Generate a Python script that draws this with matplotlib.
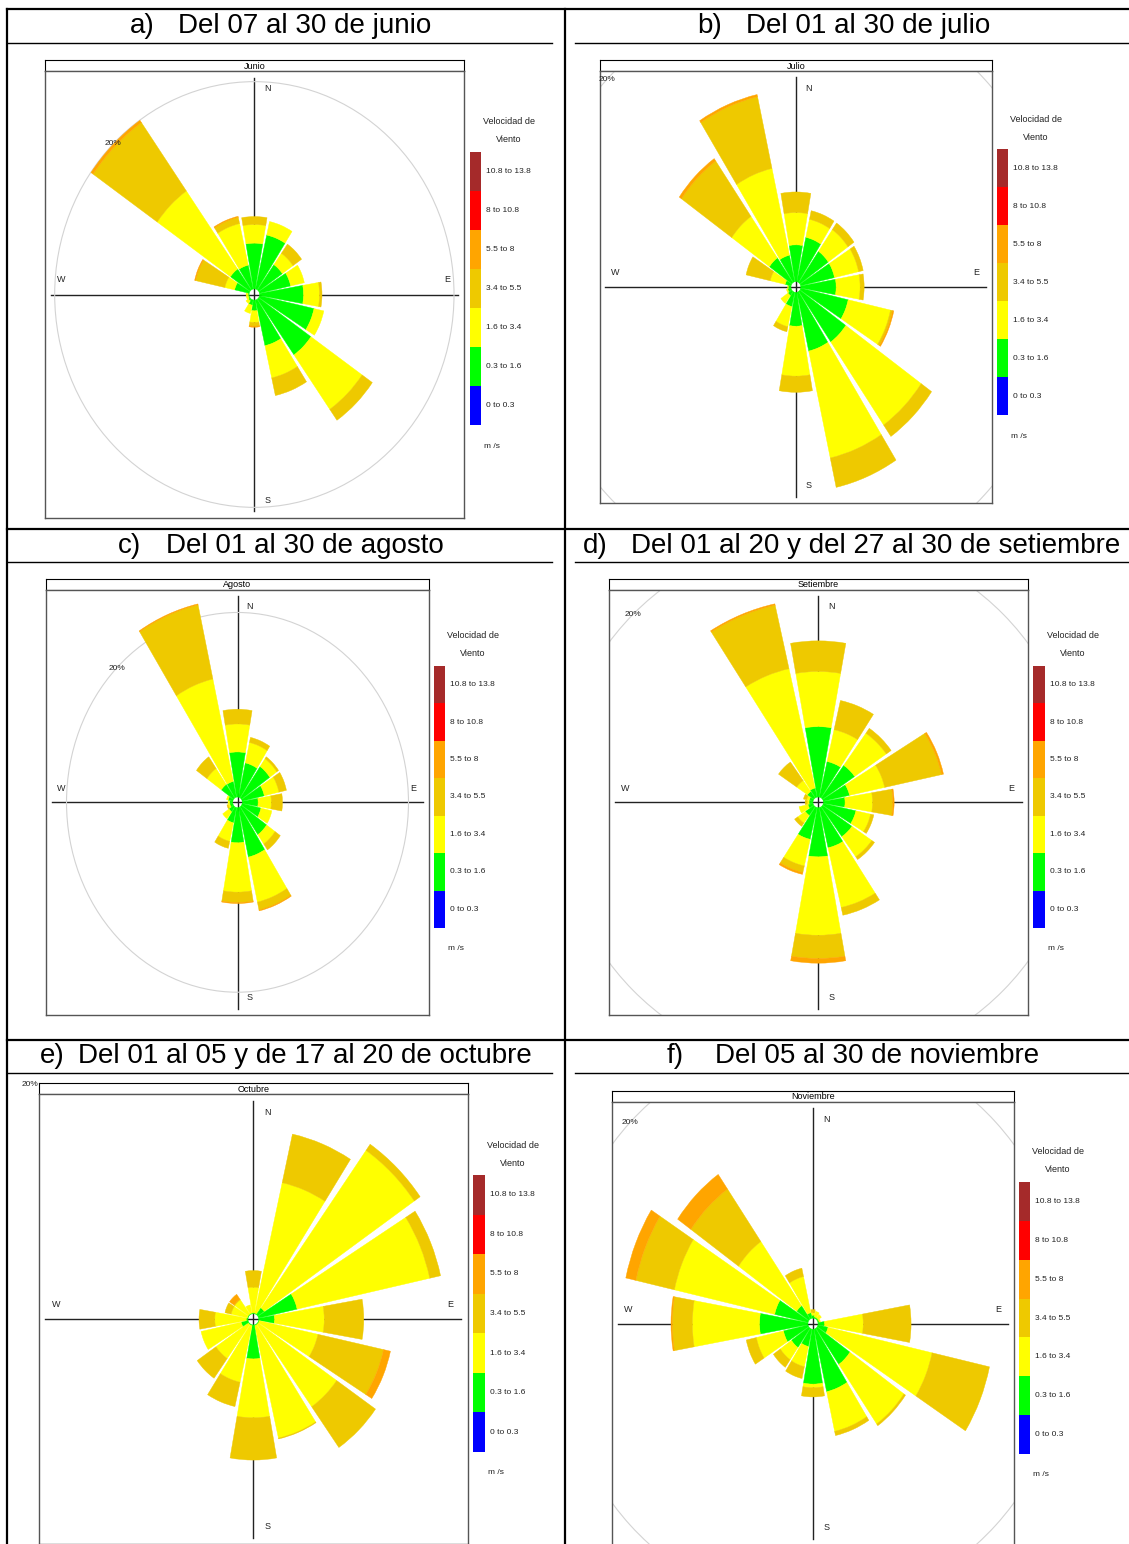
import numpy as np
import matplotlib.pyplot as plt
from matplotlib.patches import Wedge, Circle

plt.rcParams['font.family'] = ['Liberation Sans', 'DejaVu Sans']

W, H = 1129, 1544

# 16 sectores: N, NNE, NE, ENE, E, ESE, SE, SSE, S, SSW, SW, WSW, W, WNW, NW, NNW
directions = np.arange(16) * 22.5
speed_bins = ['0 to 0.3', '0.3 to 1.6', '1.6 to 3.4', '3.4 to 5.5',
              '5.5 to 8', '8 to 10.8', '10.8 to 13.8']
bin_colors = ['#0000FF', '#00FF00', '#FFFF00', '#EEC900', '#FFA500', '#FF0000', '#A52A2A']

letters = ['a)', 'b)', 'c)', 'd)', 'e)', 'f)']
periods = ['Del 07 al 30 de junio', 'Del 01 al 30 de julio',
           'Del 01 al 30 de agosto', 'Del 01 al 20 y del 27 al 30 de setiembre',
           'Del 01 al 05 y de 17 al 20 de octubre', 'Del 05 al 30 de noviembre']
months = ['Junio', 'Julio', 'Agosto', 'Setiembre', 'Octubre', 'Noviembre']

# frecuencia (%) por sector, bins 0.3-1.6 / 1.6-3.4 / 3.4-5.5 / 5.5-8
jun_g = [4.3, 5.2, 2.9, 3.2, 4.4, 5.6, 6.4, 4.4, 1.0, 0.5, 0.2, 0.1, 0.1, 1.5, 2.4, 2.3]
jun_y = [1.75, 1.3, 1.3, 1.4, 1.6, 1.0, 6.25, 3.1, 1.1, 0.8, 0.3, 0.2, 0.2, 1.0, 8.95, 4.0]
jun_gd = [0.75, 0, 1.05, 0, 0.25, 0, 1.25, 1.7, 0.35, 0, 0, 0, 0, 3.0, 7.85, 0.6]
jun_o = [0, 0, 0, 0, 0, 0, 0, 0, 0.1, 0, 0, 0, 0, 0.1, 0.25, 0.1]

jul_g = [2.5, 3.1, 2.6, 2.6, 2.65, 3.65, 4.2, 4.1, 2.3, 1.0, 0.35, 0.25, 0.2, 0.45, 2.05, 1.85]
jul_y = [2.2, 1.25, 1.8, 1.85, 1.8, 3.25, 6.9, 7.45, 3.4, 1.4, 0.65, 0.1, 0.05, 1.15, 3.45, 6.05]
jul_gd = [1.4, 0.6, 0.55, 0.35, 0.3, 0.15, 0.95, 2.05, 1.1, 0.35, 0, 0, 0, 1.85, 4.6, 5.0]
jul_o = [0, 0, 0, 0, 0, 0.1, 0, 0, 0, 0, 0, 0, 0, 0, 0.2, 0.15]

ago_g = [4.75, 3.7, 4.05, 2.65, 1.85, 2.25, 3.6, 5.35, 3.7, 1.65, 0.65, 0.35, 0.35, 0.55, 1.75, 1.7]
ago_y = [2.95, 2.2, 1.0, 1.75, 1.55, 1.3, 1.2, 4.85, 5.2, 2.0, 0.9, 0.2, 0.2, 0.2, 2.05, 11.05]
ago_gd = [1.55, 0.55, 0.25, 0.9, 1.3, 0, 0.75, 0.85, 1.1, 0.75, 0, 0.15, 0, 0, 1.5, 8.0]
ago_o = [0, 0, 0, 0, 0, 0, 0, 0.1, 0.1, 0, 0, 0, 0, 0, 0, 0.1]

set_g = [5.3, 2.75, 3.0, 2.05, 1.65, 2.55, 2.75, 3.1, 3.7, 2.45, 0.8, 0.4, 0.3, 0.3, 0.6, 0.7]
set_y = [4.15, 2.45, 2.95, 2.75, 2.1, 1.15, 1.85, 4.6, 5.9, 2.05, 0.7, 0.7, 0.15, 0.2, 1.0, 9.2]
set_gd = [2.3, 2.25, 0.45, 4.45, 1.55, 0.25, 0.25, 0.6, 1.75, 0.5, 0.3, 0, 0.15, 0.25, 1.7, 4.9]
set_o = [0, 0, 0, 0.15, 0.1, 0, 0, 0, 0.35, 0.15, 0, 0, 0, 0, 0, 0.1]

oct_g = [0.05, 0.05, 0.5, 2.5, 1.0, 0.05, 0.05, 0.05, 2.05, 0.05, 0.05, 0.45, 0.1, 0.05, 0.05, 0.05]
oct_y = [1.55, 8.05, 11.6, 8.6, 3.15, 3.8, 6.05, 6.95, 3.55, 3.5, 2.5, 2.6, 2.0, 1.05, 1.05, 0.5]
oct_gd = [1.0, 3.0, 0.45, 0.7, 2.5, 4.25, 3.0, 0.05, 2.55, 1.5, 1.45, 0, 1.0, 0.4, 0.05, 0]
oct_o = [0, 0, 0, 0, 0, 0.45, 0, 0, 0, 0, 0, 0, 0, 0, 0.35, 0]

nov_g = [0.2, 0.1, 0.1, 0.1, 0.5, 0.8, 3.1, 4.5, 3.85, 1.25, 1.65, 1.95, 3.75, 2.65, 1.15, 0.4]
nov_y = [0.2, 0.4, 0.3, 0.1, 3.0, 8.25, 5.1, 2.85, 0.25, 1.45, 1.05, 2.15, 5.2, 7.95, 5.5, 2.6]
nov_gd = [0.2, 0, 0, 0, 3.7, 4.55, 0.15, 0.3, 0.65, 0.85, 0.65, 0.8, 1.55, 3.05, 4.5, 0.6]
nov_o = [0, 0, 0, 0, 0, 0, 0, 0, 0, 0, 0, 0, 0.1, 0.8, 1.25, 0]

month_data = [(jun_g, jun_y, jun_gd, jun_o), (jul_g, jul_y, jul_gd, jul_o),
              (ago_g, ago_y, ago_gd, ago_o), (set_g, set_y, set_gd, set_o),
              (oct_g, oct_y, oct_gd, oct_o), (nov_g, nov_y, nov_gd, nov_o)]

# layout in pixels: plot box (x0, y0, x1, y1), strip height, axis limit, legend bar
layout = [
    dict(box=(44.7, 71, 464, 518), lim=21.0, bar=(470, 152, 481, 425)),
    dict(box=(599.7, 71, 992, 503), lim=14.7, bar=(997, 149, 1008, 415)),
    dict(box=(46, 589.7, 429, 1015), lim=22.4, bar=(434, 666, 445, 928)),
    dict(box=(608.7, 589.7, 1027.7, 1015), lim=16.0, bar=(1033, 666, 1045, 928)),
    dict(box=(39, 1094.3, 467.7, 1544.3), lim=13.57, bar=(473, 1175, 485, 1452)),
    dict(box=(611.7, 1101.7, 1014.3, 1545.7), lim=15.58, bar=(1019, 1182, 1030, 1454)),
]
strip_h = 11
header_pos = [(130, 178, 26), (697, 746, 26), (118, 166, 546),
              (583, 631, 546), (40, 78, 1056), (667, 715, 1056)]


def rect(x0, y0, x1, y1):
    return [x0 / W, 1 - y1 / H, (x1 - x0) / W, (y1 - y0) / H]


fig = plt.figure(figsize=(W / 100, H / 100), dpi=100)
bg = fig.add_axes([0, 0, 1, 1])
bg.set_xlim(0, W)
bg.set_ylim(H, 0)
bg.axis('off')

# table
for y in [9, 529, 1040]:
    bg.plot([7, W], [y, y], color='black', lw=1.6)
for y in [43, 562, 1073]:
    bg.plot([7, 552], [y, y], color='black', lw=1.0)
    bg.plot([575, W], [y, y], color='black', lw=1.0)
for x in [7, 565]:
    bg.plot([x, x], [9, H], color='black', lw=1.6)

for i in range(6):
    xl, xt, yc = header_pos[i]
    bg.text(xl, yc, letters[i], fontsize=20, ha='left', va='center')
    bg.text(xt, yc, periods[i], fontsize=20, ha='left', va='center')

for i in range(6):
    lay = layout[i]
    x0, y0, x1, y1 = lay['box']
    lim = lay['lim']
    hole = 0.025 * lim

    st = fig.add_axes(rect(x0, y0 - strip_h, x1, y0))
    st.set_xticks([])
    st.set_yticks([])
    for s in st.spines.values():
        s.set_linewidth(0.8)
    st.text(0.5, 0.45, months[i], fontsize=6.5, ha='center', va='center',
            transform=st.transAxes)

    ax = fig.add_axes(rect(x0, y0, x1, y1))
    ax.set_xlim(-lim, lim)
    ax.set_ylim(-lim, lim)
    ax.set_xticks([])
    ax.set_yticks([])
    for s in ax.spines.values():
        s.set_color('#555555')
        s.set_linewidth(1.0)

    ln = lim / 1.03
    ax.plot([-ln, ln], [0, 0], color='#222222', lw=1.0, zorder=1)
    ax.plot([0, 0], [-ln, ln], color='#222222', lw=1.0, zorder=1)
    ax.add_patch(Circle((0, 0), 20, fill=False, edgecolor='#D3D3D3', lw=0.8, zorder=1))

    g, yv, gd, o = month_data[i]
    zero = np.zeros(16)
    table = np.vstack([zero, g, yv, gd, o, zero, zero])
    for k, bearing in enumerate(directions):
        r = hole
        for b in range(7):
            f = table[b, k]
            if f <= 0:
                continue
            ax.add_patch(Wedge((0, 0), r + f, 90 - bearing - 10, 90 - bearing + 10,
                               width=f, facecolor=bin_colors[b],
                               edgecolor=bin_colors[b], lw=0.3, zorder=2))
            r += f

    lab = dict(fontsize=6.5, ha='center', va='center', color='#222222', zorder=3)
    ax.text(0.065 * lim, 0.92 * lim, 'N', **lab)
    ax.text(0.065 * lim, -0.92 * lim, 'S', **lab)
    ax.text(0.92 * lim, 0.065 * lim, 'E', **lab)
    ax.text(-0.92 * lim, 0.065 * lim, 'W', **lab)
    ax.text(-20 * np.sqrt(0.5), 20 * np.sqrt(0.5), '20%', fontsize=6, ha='center',
            va='center', color='#222222', clip_on=False, zorder=3)

    # legend
    bx0, by0, bx1, by1 = lay['bar']
    lg = fig.add_axes(rect(bx0, by0, bx1, by1))
    lg.barh(np.arange(7) + 0.5, 1, height=1, color=bin_colors, left=0)
    lg.set_xlim(0, 1)
    lg.set_ylim(0, 7)
    lg.axis('off')
    seg = (by1 - by0) / 7
    for b in range(7):
        bg.text(bx1 + 5, by1 - (b + 0.5) * seg, speed_bins[b], fontsize=6,
                ha='left', va='center', color='#222222')
    bg.text(bx1 + 28, by0 - 30, 'Velocidad de', fontsize=6.5, ha='center',
            va='center', color='#222222')
    bg.text(bx1 + 28, by0 - 12, 'Viento', fontsize=6.5, ha='center',
            va='center', color='#222222')
    bg.text(bx1 + 11, by1 + 21, 'm /s', fontsize=6, ha='center',
            va='center', color='#222222')

fig.savefig('out.png', dpi=100)
